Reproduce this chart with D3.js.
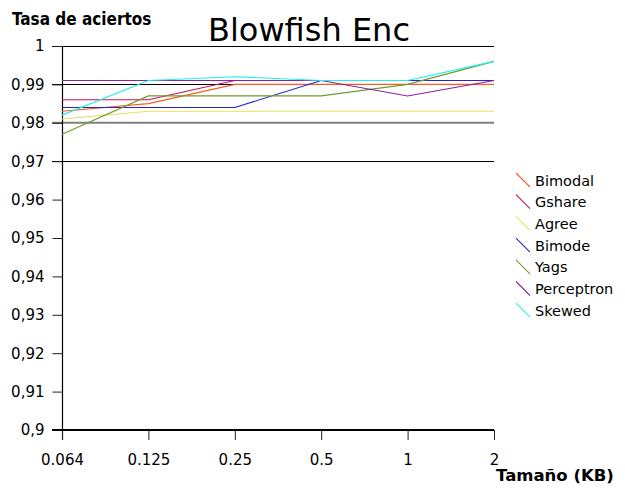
<!DOCTYPE html>
<html>
<head>
<meta charset="utf-8">
<script src="https://cdn.jsdelivr.net/npm/d3@7"></script>
<style>
  html, body { margin: 0; padding: 0; background: #fff; }
  svg { display: block; font-family: "DejaVu Sans", sans-serif; }
</style>
</head>
<body>
<svg id="chart" width="625" height="488"></svg>
<script>
// Tamaños de predictor (KB) y tasa de aciertos por predictor
const sizes = ["0.064", "0.125", "0.25", "0.5", "1", "2"];
const yTicks = [0.9, 0.91, 0.92, 0.93, 0.94, 0.95, 0.96, 0.97, 0.98, 0.99, 1];
const gridLines = [1, 0.99, 0.97];
const refLine = [0.98];

const bimodal    = [0.983, 0.985, 0.990, 0.990, 0.990, 0.990];
const gshare     = [0.986, 0.986, 0.991, 0.991, 0.991, 0.991];
const agree      = [0.981, 0.983, 0.983, 0.983, 0.983, 0.983];
const bimode     = [0.984, 0.984, 0.984, 0.991, 0.991, 0.991];
const yags       = [0.977, 0.987, 0.987, 0.987, 0.990, 0.996];
const perceptron = [0.991, 0.991, 0.991, 0.991, 0.987, 0.991];
const skewed     = [0.982, 0.991, 0.992, 0.991, 0.991, 0.996];

const seriesNames = ["Bimodal", "Gshare", "Agree", "Bimode", "Yags", "Perceptron", "Skewed"];
const seriesValues = [bimodal, gshare, agree, bimode, yags, perceptron, skewed];
const seriesColors = ["#ff5a1f", "#cc0f55", "#e3e35a", "#2424d0", "#6f9c2c", "#8e1f9e", "#1ef0f0"];

const series = seriesNames.map((name, i) => ({ name, values: seriesValues[i], color: seriesColors[i] }));

const svg = d3.select("#chart");

const x = d3.scalePoint().domain(sizes).range([62, 494]);
const y = d3.scaleLinear().domain([0.9, 1]).range([430, 46]);

// Líneas horizontales de referencia
svg.append("g").selectAll("line").data(gridLines).join("line")
  .attr("x1", 52).attr("x2", 494)
  .attr("y1", d => Math.round(y(d)) + 0.5).attr("y2", d => Math.round(y(d)) + 0.5)
  .attr("stroke", "#000").attr("stroke-width", 1);
svg.append("g").selectAll("line").data(refLine).join("line")
  .attr("x1", 52).attr("x2", 494)
  .attr("y1", d => y(d)).attr("y2", d => y(d))
  .attr("stroke", "#808080").attr("stroke-width", 2);

// Eje Y
const yAxis = d3.axisLeft(y).tickValues(yTicks).tickSize(10).tickPadding(8)
  .tickFormat(d => d3.format(".2~f")(d).replace(".", ","));
const gy = svg.append("g").attr("transform", "translate(62.5,0)").call(yAxis);
gy.select(".domain").remove();
gy.selectAll(".tick line").attr("stroke", "#222");
gy.selectAll("text").attr("font-size", 15).attr("fill", "#000")
  .attr("font-family", "DejaVu Sans, sans-serif");
svg.append("line").attr("x1", 62.5).attr("x2", 62.5).attr("y1", 46).attr("y2", 440)
  .attr("stroke", "#000").attr("stroke-width", 1.2);

// Eje X
const xAxis = d3.axisBottom(x).tickSize(10).tickPadding(14);
const gx = svg.append("g").attr("transform", "translate(0,430)").call(xAxis);
gx.select(".domain").remove();
gx.selectAll(".tick line").attr("stroke", "#222");
gx.selectAll("text").attr("font-size", 15).attr("fill", "#000")
  .attr("font-family", "DejaVu Sans, sans-serif");
svg.append("line").attr("x1", 52).attr("x2", 494).attr("y1", 430).attr("y2", 430)
  .attr("stroke", "#000").attr("stroke-width", 2);

// Series
const line = d3.line().x((d, i) => x(sizes[i])).y(d => y(d));
svg.append("g").selectAll("path").data(series).join("path")
  .attr("d", d => line(d.values))
  .attr("fill", "none")
  .attr("stroke", d => d.color)
  .attr("stroke-width", 1.1);

// Leyenda
const legend = svg.append("g").attr("transform", "translate(516,173)");
const item = legend.selectAll("g").data(series).join("g")
  .attr("transform", (d, i) => `translate(0,${i * 21.7})`);
item.append("line")
  .attr("x1", 0).attr("y1", 0).attr("x2", 14).attr("y2", 14)
  .attr("stroke", d => d.color).attr("stroke-width", 1.1);
item.append("text")
  .attr("x", 19).attr("y", 12.5)
  .attr("font-size", 14.5)
  .attr("fill", "#000")
  .text(d => d.name);

// Títulos
svg.append("text").attr("x", 309).attr("y", 41).attr("text-anchor", "middle")
  .attr("font-size", 32).attr("fill", "#000").text("Blowfish Enc");
svg.append("text").attr("x", 12).attr("y", 25)
  .attr("font-family", "DejaVu Sans Condensed, DejaVu Sans, sans-serif")
  .style("font-stretch", "condensed")
  .attr("font-weight", "bold").attr("font-size", 17).attr("fill", "#000")
  .text("Tasa de aciertos");
svg.append("text").attr("x", 496).attr("y", 481)
  .attr("font-weight", "bold").attr("font-size", 16.5).attr("fill", "#000")
  .text("Tamaño (KB)");
</script>
</body>
</html>
